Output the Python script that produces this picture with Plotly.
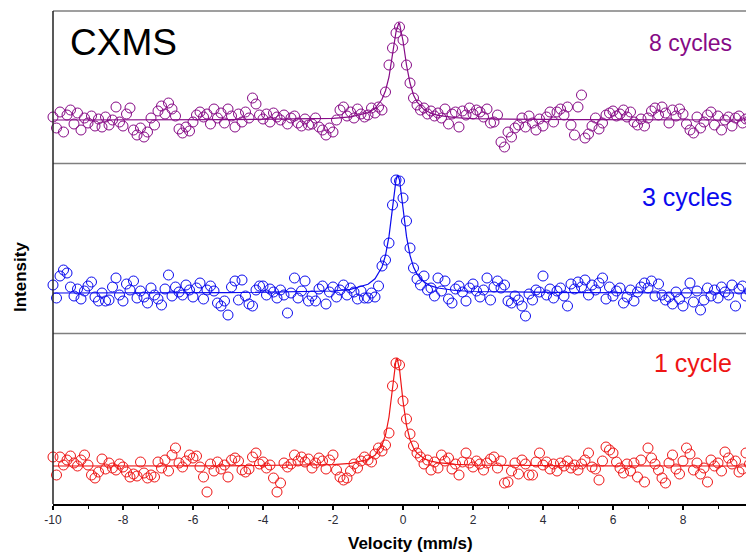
import plotly.graph_objects as go

# Velocity channels (mm/s)
velocity = [round(-10 + 0.1 * i, 1) for i in range(201)]

# Relative intensity (arb. units, baseline = 0)
int_8cycles = [
    3, -8, 8, -12, 5, 10, -4, 7, -10, 2,
    -3, 4, -6, 1, -7, 3, -5, 0, 13, -2,
    -6, 6, 12, -10, -15, -8, -17, -12, 2, -5,
    9, 14, 6, 17, 11, 4, -9, -13, -7, -11,
    -2, 5, 8, 3, 6, -4, 11, 2, 7, -3,
    11, 4, -7, 6, -2, 8, 2, 22, 16, 5,
    1, 6, -2, 7, 3, 0, 5, -4, 2, 4,
    -3, -6, 1, -5, -4, 2, -7, -10, -15, -8,
    -12, 0, 10, 13, 4, 8, 2, 11, 6, 3,
    5, 12, 7, 13, 10, 28, 55, 72, 87, 93,
    80, 55, 37, 22, 15, 10, 12, 6, 9, 4,
    7, 2, 11, -4, 6, 8, -7, 9, 5, 12,
    6, 10, 8, 3, 11, -3, -2, 5, -22, -27,
    -12, -17, -8, -5, 2, -7, 4, -3, -10, 1,
    -6, 3, 8, -2, 8, 11, 5, 13, -5, -15,
    13, 25, -18, -14, -6, 2, -9, -3, 5, 7,
    9, 4, 6, 10, 3, 8, -2, -5, 1, -6,
    2, 9, 12, 5, 13, 7, -3, 10, 4, 11,
    6, -4, -10, -13, 3, -8, -2, 5, 8, -5,
    4, -10, 0, 3, -6, 2, 4, -3, 1, 0, 2,
]

int_3cycles = [
    8, -5, 17, 23, 20, 6, -3, 4, -6, 2,
    7, 11, -4, -8, 0, -8, -7, 6, 15, -2,
    -8, 9, 3, 12, -5, 2, -4, -10, 5, -2,
    -6, -12, 4, 18, -3, 6, 1, -2, 8, 3,
    -4, 5, 10, -6, 3, 7, 2, -10, -13, -8,
    -22, 6, 12, -7, 13, -3, -11, -13, 3, 7,
    7, -2, 4, 1, -5, 3, -2, -20, 0, 15,
    -5, 2, 12, -8, -3, -8, 4, 7, -11, 1,
    6, -4, 3, 8, -2, 5, 1, -6, 2, -5,
    -5, 0, -4, 7, 27, 33, 50, 88, 113, 112,
    95, 72, 45, 25, 14, 8, 17, 3, 5, -3,
    15, 2, 12, -6, -10, 4, 7, 1, -8, 5,
    9, 2, -4, 3, 15, -7, 6, 12, 5, 8,
    -8, -10, -3, -7, -13, -23, -1, -7, 3, 1,
    17, -2, 4, -5, 2, 5, -3, -13, 9, 4,
    11, 6, 13, -2, 8, 3, 10, 15, -6, 6,
    -3, 2, 5, -10, -4, 3, -8, 1, 6, 10,
    5, 12, -3, 9, -2, -7, -4, -11, 1, -6,
    -13, 0, 10, -9, 2, -17, -7, 5, -3, 3,
    -5, 6, 1, -2, 8, -13, 4, 7, -3, 2, -1,
]

int_1cycle = [
    9, -9, 9, 1, 6, 10, 3, 0, 6, 11,
    1, -9, -12, -6, 7, -3, 3, -2, -4, 2,
    -1, -6, -11, -8, -10, 4, -7, -12, -9, -11,
    4, -2, 6, -5, 11, 18, 3, -1, 5, 11,
    8, 10, -1, -11, -26, 2, -5, 4, -3, 1,
    -11, 6, 8, 5, -4, -6, -3, 9, 13, 2,
    4, -2, 1, -12, -26, -17, 3, -1, 2, 11,
    5, 9, 4, 7, -2, 3, 8, 5, -3, 6,
    11, -4, -11, -14, -12, -5, 2, -2, 5, 9,
    6, 4, 12, 18, 15, 21, 33, 80, 103, 101,
    65, 47, 32, 20, 13, 9, 2, 6, -4, 4,
    -2, 11, 5, 8, -3, 2, -9, 4, 13, 3,
    -1, 5, 2, -4, 3, 7, 9, -2, 5, -17,
    -16, -5, 3, -8, 6, 2, -9, -9, 4, 13,
    1, 4, -3, 2, -5, 3, 0, 5, -2, 1,
    -4, 2, 6, 13, -1, -3, -14, 5, 19, 16,
    13, 4, -2, -7, 2, -5, 3, -11, 6, -16,
    18, 8, 2, -4, -12, -17, 3, 11, -3, -8,
    5, 18, 12, -4, 3, -8, -2, -16, 6, 0,
    3, -5, 14, 8, 2, 5, -6, -3, 13, 2, 6,
]

# Fitted curves
fit_v_8 = [-10, -5, -2, -1.5, -1.0, -0.8, -0.6, -0.5, -0.4, -0.3, -0.2, -0.12, -0.1,
           0.0, 0.1, 0.2, 0.3, 0.4, 0.6, 0.8, 1.0, 1.5, 2.0, 5, 10]
fit_8 = [0, 0.3, 1.7, 3.1, 7.2, 11.5, 20.7, 29.3, 43, 64, 88, 97, 96.5,
         79, 55, 37, 25, 18, 10.4, 6.7, 4.6, 2.3, 1.3, 0.3, 0]

fit_v_3 = [-10, -5, -2, -1.5, -1.0, -0.8, -0.6, -0.5, -0.4, -0.3, -0.2, -0.15, -0.1,
           0.0, 0.1, 0.2, 0.3, 0.4, 0.6, 0.8, 1.0, 1.5, 2.0, 5, 10]
fit_3 = [0, 0.3, 2.0, 3.6, 8.7, 14.2, 26, 37.7, 56.6, 84.9, 113, 118, 113,
         85, 56.6, 37.7, 26, 18.9, 11, 7.1, 5, 2.5, 1.5, 0.3, 0]

fit_v_1 = [-10, -5, -2, -1.5, -1.0, -0.8, -0.6, -0.5, -0.4, -0.3, -0.2, -0.17, -0.1,
           0.0, 0.1, 0.2, 0.3, 0.4, 0.6, 0.8, 1.0, 1.5, 2.0, 5, 10]
fit_1 = [0, 0.2, 1.4, 2.6, 6.5, 10.8, 20.8, 31, 49, 78, 106, 108, 97,
         65, 40.7, 26.3, 18, 12.9, 7.5, 4.8, 3.4, 1.7, 1.0, 0.2, 0]

x_ticks = [-10, -8, -6, -4, -2, 0, 2, 4, 6, 8, 10]

PURPLE = "#860a86"
BLUE = "#0a0aee"
RED = "#ee1515"

FONT = "Liberation Sans, Arial, sans-serif"

fig = go.Figure()

panels = [
    (int_8cycles, fit_v_8, fit_8, PURPLE, "y3"),
    (int_3cycles, fit_v_3, fit_3, BLUE, "y2"),
    (int_1cycle, fit_v_1, fit_1, RED, "y"),
]
for data, fv, fy, col, yax in panels:
    fig.add_trace(go.Scatter(
        x=velocity, y=data, mode="markers", xaxis="x", yaxis=yax,
        marker=dict(symbol="circle-open", size=10, color=col, line=dict(width=1, color=col)),
        cliponaxis=False, showlegend=False, hoverinfo="skip"))
    fig.add_trace(go.Scatter(
        x=fv, y=fy, mode="lines", xaxis="x", yaxis=yax,
        line=dict(color=col, width=1.2), showlegend=False, hoverinfo="skip"))

# The page body adds an 8 px offset; figure coordinates = page coordinates - 8
OFF = 8
PLOT_TOP = 11 - OFF
PLOT_BOT = 504 - OFF
H = float(PLOT_BOT - PLOT_TOP)  # 493 px


def py(page_px):
    return (PLOT_BOT - (page_px - OFF)) / H


def dom(top_px, bot_px):
    return [py(bot_px), py(top_px)]


yaxis_common = dict(showticklabels=False, ticks="", showgrid=False, zeroline=False,
                    showline=False, fixedrange=True)

fig.update_layout(
    width=746, height=549,
    margin=dict(l=53 - OFF, r=1, t=PLOT_TOP, b=549 - PLOT_BOT),
    paper_bgcolor="white", plot_bgcolor="white",
    font=dict(family=FONT, color="black"),
    xaxis=dict(range=[-10, 10], tickvals=x_ticks, ticktext=[str(t) for t in x_ticks],
               ticks="outside", ticklen=4, tickwidth=1.5, tickcolor="black",
               showline=True, linecolor="black", linewidth=1.5,
               showgrid=False, zeroline=False, anchor="y",
               tickfont=dict(family=FONT, size=12, color="#2a2a35"),
               minor=dict(ticks="outside", ticklen=3, tickwidth=1, tickcolor="black",
                          tickvals=[-9, -7, -5, -3, -1, 1, 3, 5, 7, 9])),
    yaxis=dict(domain=dom(334, 504), range=[-38, 132], **yaxis_common),
    yaxis2=dict(domain=dom(164, 333), range=[-40, 129], anchor="x", **yaxis_common),
    yaxis3=dict(domain=dom(11, 163), range=[-43, 109], anchor="x", **yaxis_common),
)

# panel frame lines
for ypx in [11, 163.5, 333.5]:
    fig.add_shape(type="line", xref="paper", yref="paper", x0=0, x1=1,
                  y0=py(ypx), y1=py(ypx),
                  line=dict(color="#7f7f7f", width=1.6), layer="above")
fig.add_shape(type="line", xref="paper", yref="paper", x0=0, x1=0, y0=0, y1=1,
              line=dict(color="#222222", width=1.5), layer="above")

annots = [
    dict(text="CXMS", x=-9.57, y=78, xref="x", yref="y3", xanchor="left", yanchor="middle",
         font=dict(size=37, color="black")),
    dict(text="8 cycles", x=9.46, y=77, xref="x", yref="y3", xanchor="right", yanchor="middle",
         font=dict(size=23, color=PURPLE)),
    dict(text="3 cycles", x=9.46, y=96, xref="x", yref="y2", xanchor="right", yanchor="middle",
         font=dict(size=25, color=BLUE)),
    dict(text="1 cycle", x=9.46, y=103, xref="x", yref="y", xanchor="right", yanchor="middle",
         font=dict(size=25, color=RED)),
    dict(text="<b>Velocity (mm/s)</b>", x=(410 - 53) / 700, y=py(543),
         xref="paper", yref="paper", xanchor="center", yanchor="middle",
         font=dict(size=17, color="black")),
    dict(text="<b>Intensity</b>", x=(20 - 53) / 700, y=py(277), textangle=-90,
         xref="paper", yref="paper", xanchor="center", yanchor="middle",
         font=dict(size=17, color="black")),
]
for a in annots:
    fig.add_annotation(showarrow=False, **a)

fig.write_html("out.html")
